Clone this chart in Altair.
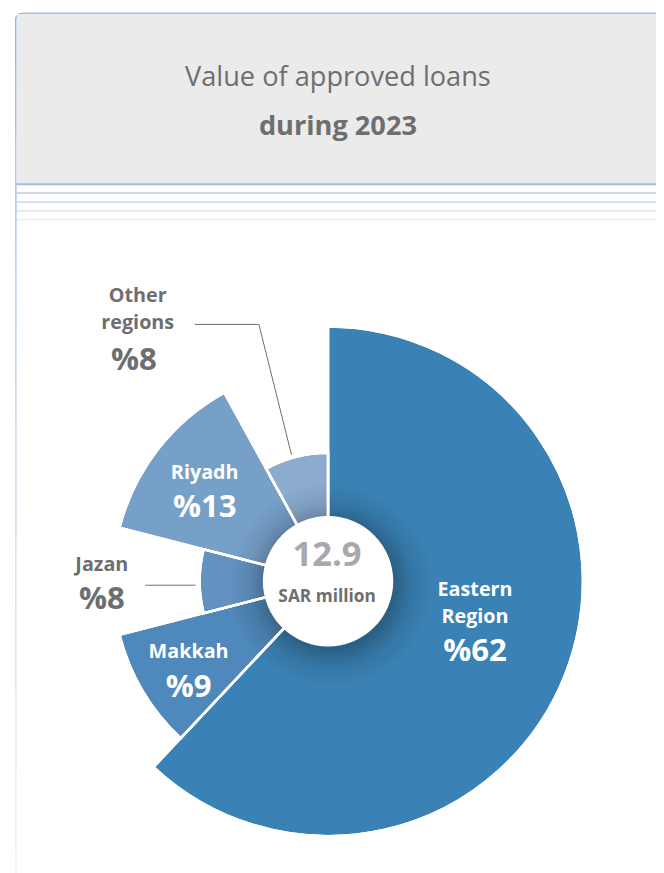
import math
import altair as alt
import pandas as pd

# ---- data ----
regions = ["Eastern Region", "Makkah", "Jazan", "Riyadh", "Other regions"]
shares = [62, 9, 8, 13, 8]          # percent of total value
ring = [3, 2, 1, 2, 1]              # emphasis ring of each slice (outer radius level)
colors = ["#3A82B5", "#4F88BA", "#6392C1", "#77A0C9", "#8BABCF"]
total_value = ["12.9"]
total_unit = ["SAR million"]
title_lines = ["Value of approved loans", "during 2023"]

df = pd.DataFrame({"region": regions, "share": shares, "ring": ring,
                   "idx": list(range(len(regions)))})
one = alt.Chart(pd.DataFrame({"k": [0]}))

W, H = 656, 865
CX, CY = 324, 575
GREY = "#6D6E70"
TFONT = "Open Sans"
LFONT = "Open Sans"
TWO_PI = 2 * math.pi

theta_scale = alt.Scale(domain=[0, 100], range=[0, TWO_PI])
radius_scale = alt.Scale(type="linear", domain=[0, 1, 2, 3], range=[0, 130, 218, 258],
                         zero=True, nice=False)

center = dict(x=alt.value(CX), y=alt.value(CY))

# cumulative angles computed by Vega from the shares
base = alt.Chart(df).transform_window(
    cum="sum(share)", sort=[alt.SortField("idx", order="ascending")], frame=[None, 0]
).transform_calculate(
    start="datum.cum - datum.share",
    mid="datum.cum - datum.share / 2",
    pct="'%' + datum.share",
    name="replace(datum.region, ' ', '\\n')",
)

# ---- card / header decoration ----
card = one.mark_rect(
    fill="white", strokeWidth=1.2, cornerRadius=6,
    stroke=alt.LinearGradient(gradient="linear", x1=0, y1=0, x2=0, y2=1,
                              stops=[alt.GradientStop(color="#5E97D0", offset=0),
                                     alt.GradientStop(color="#A9C2E0", offset=0.3),
                                     alt.GradientStop(color="#EEF2F8", offset=1)]),
).encode(x=alt.value(8), x2=alt.value(720), y=alt.value(0), y2=alt.value(900))

header = one.mark_rect(fill="#EBEBEB").encode(
    x=alt.value(8.6), x2=alt.value(700), y=alt.value(0.6), y2=alt.value(172))

rule_specs = [(173, "#A3BAD8", 2), (182, "#BCCCE2", 1.5), (191, "#C8D5E8", 1.5),
              (200, "#D5DFEE", 1.2), (209, "#E3EAF3", 1.2)]
rules = [one.mark_rule(color=c, strokeWidth=w).encode(
    x=alt.value(8.6), x2=alt.value(700), y=alt.value(yv)) for yv, c, w in rule_specs]

title1 = one.mark_text(font=TFONT, fontSize=27.5, color=GREY).encode(
    x=alt.value(334), y=alt.value(66), text=alt.value(title_lines[0]))
title2 = one.mark_text(font=TFONT, fontSize=27.5, fontWeight="bold", color=GREY).encode(
    x=alt.value(334), y=alt.value(115), text=alt.value(title_lines[1]))

# ---- slices ----
theta_enc = dict(theta=alt.Theta("start:Q", scale=theta_scale, stack=False),
                 theta2=alt.Theta2("cum:Q"),
                 radius=alt.Radius("ring:Q", scale=radius_scale, stack=False),
                 radius2=alt.value(0))

arcs = base.mark_arc(stroke="white", strokeWidth=2.5).encode(
    color=alt.Color("region:N", scale=alt.Scale(domain=regions, range=colors), legend=None),
    **theta_enc, **center,
)

shadow = one.mark_arc(
    radius=104, theta=0, theta2=6.2832,
    color=alt.RadialGradient(gradient="radial", x1=0.5, y1=0.5, r1=0, x2=0.5, y2=0.5, r2=0.5,
                             stops=[alt.GradientStop(color="rgba(0,0,0,0.30)", offset=0),
                                    alt.GradientStop(color="rgba(0,0,0,0.26)", offset=0.62),
                                    alt.GradientStop(color="rgba(0,0,0,0.09)", offset=0.8),
                                    alt.GradientStop(color="rgba(0,0,0,0)", offset=1)]),
).encode(x=alt.value(CX + 3), y=alt.value(CY + 4))

separators = base.mark_arc(fillOpacity=0, stroke="white", strokeWidth=2.5).encode(
    **theta_enc, **center,
)

disc = one.mark_arc(radius=66, theta=0, theta2=6.2832, fill="white").encode(**center)

center_val = one.mark_text(font=LFONT, fontSize=35, fontWeight="bold", color="#A7A9AC").encode(
    x=alt.value(323), y=alt.value(549), text=alt.value(total_value[0]))
center_unit = one.mark_text(font=LFONT, fontSize=17.5, fontWeight="bold", color=GREY).encode(
    x=alt.value(323), y=alt.value(591), text=alt.value(total_unit[0]))


# ---- slice labels (placed at each slice's mid angle) ----
def label(region, r, name_dy, pct_dy, color, dx=0, pdx=None):
    sub = base.transform_filter(alt.datum.region == region)
    enc = dict(theta=alt.Theta("mid:Q", scale=theta_scale, stack=False), **center)
    n = sub.mark_text(radius=r, dx=dx, dy=name_dy, font=LFONT, fontWeight="bold",
                      fontSize=20, color=color, lineBreak="\n", lineHeight=27.5,
                      align="center", baseline="middle").encode(text="name:N", **enc)
    p = sub.mark_text(radius=r, dx=dx if pdx is None else pdx, dy=pct_dy, font=LFONT,
                      fontWeight="bold", fontSize=31.5, color=color,
                      align="center", baseline="middle").encode(text="pct:N", **enc)
    return [n, p]


labels = []
labels += label("Eastern Region", 160, -50.4, 12.6, "white")
labels += label("Makkah", 164, -12, 25, "white")
labels += label("Riyadh", 158, -12.7, 23, "white")
labels += label("Jazan", 229, -16.5, 19.5, GREY)
labels += label("Other regions", 260, -36.7, 28.8, GREY, dx=-128, pdx=-132)

leaders = [
    one.mark_rule(color=GREY, strokeWidth=1).encode(
        x=alt.value(139), x2=alt.value(190), y=alt.value(579), y2=alt.value(579)),
    one.mark_rule(color=GREY, strokeWidth=1).encode(
        x=alt.value(189), x2=alt.value(254), y=alt.value(315), y2=alt.value(315)),
    one.mark_rule(color=GREY, strokeWidth=1).encode(
        x=alt.value(254), x2=alt.value(287), y=alt.value(315), y2=alt.value(447)),
]

chart = alt.layer(
    card, header, *rules, title1, title2,
    arcs, shadow, separators, disc, center_val, center_unit,
    *leaders, *labels,
).properties(
    width=W, height=H, padding=0, autosize="none"
).configure_view(strokeWidth=0)

chart.save("out.html", embed_options={"renderer": "svg", "actions": False})
